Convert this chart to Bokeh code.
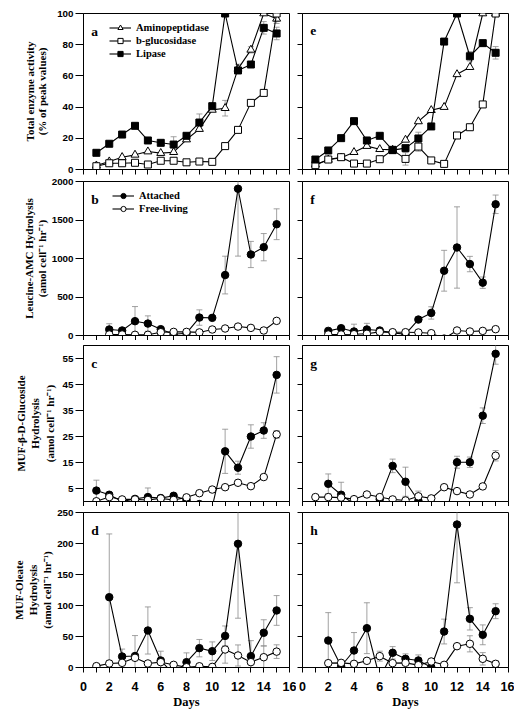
import numpy as np
from bokeh.plotting import figure
from bokeh.layouts import column, row
from bokeh.models import Range1d, FixedTicker, Legend, LegendItem, Label
from bokeh.embed import file_html
from bokeh.resources import INLINE

days = list(range(1, 16))
x_ticks = list(range(0, 17, 2))
x_minor = list(range(1, 16, 2))

# ---- Total enzyme activity (% of peak values): panel a (left), e (right)
amino_a = [2.5, 5.1, 7.9, 9.4, 11.5, 10.5, 11.1, 19.2, 25.9, 38.2, 39.3, 64.5, 76.7, 100, 96.6]
gluc_a = [2.1, 4.0, 4.0, 4.3, 3.2, 5.6, 5.6, 4.6, 5.1, 4.9, 15.0, 25.4, 42.7, 49.1, 100]
lip_a = [10.7, 16.5, 22.4, 28.0, 18.6, 17.1, 16.0, 21.6, 30.1, 40.6, 100, 63.5, 67.3, 90.8, 87.2]
sd_amino_a = [None] * 10 + [5, 3, 2, None, 3]
sd_gluc_a = [None] * 14 + [5]
sd_lip_a = [None, None, None, None, None, None, 5, None, 5.5, None, None, None, None, 4, 4]

amino_e = [3.2, 6.2, 7.5, 11.1, 15.0, 13.0, 12.6, 19.0, 30.8, 38.0, 40.0, 61.0, 65.6, 100, 100]
gluc_e = [2.8, 6.4, 7.9, 3.8, 3.8, 6.6, 12.6, 6.8, 14.7, 5.8, 3.6, 21.8, 27.1, 41.7, 100]
lip_e = [6.4, 12.2, 20.1, 31.0, 18.6, 21.6, 12.4, 13.7, 19.9, 27.6, 82.0, 100, 72.6, 81.0, 74.8]
sd_amino_e = [None] * 15
sd_gluc_e = [None] * 7 + [4, 3] + [None] * 6
sd_lip_e = [None] * 8 + [4] + [None] * 3 + [3, None, 4]

# ---- Leucine-AMC hydrolysis: panel b (left), f (right)
att_b = [None, 78, 65, 186, 155, 82, 17, 30, 233, 229, 785, 1906, 1052, 1147, 1445]
free_b = [None, 13, 13, 9, 9, 43, 47, 47, 40, 78, 91, 116, 99, 65, 190]
sd_att_b = [None, 75, None, 190, 100, None, None, None, 100, None, 245, 875, 170, 177, 200]
sd_free_b = [None] * 15

att_f = [None, 60, 95, 52, 78, 65, 34, 17, 207, 293, 841, 1143, 928, 686, 1704]
free_f = [None, 13, 13, 17, 22, 47, 43, 43, 39, 30, -40, 65, 52, 60, 82]
sd_att_f = [None, 35, 30, 95, 80, None, None, None, 30, 80, 265, 528, 100, 74, 120]
sd_free_f = [None] * 15

# ---- MUF-beta-D-glucoside hydrolysis: panel c (left), g (right)
att_c = [4.2, 2.6, 0.0, 1.0, 1.7, 1.3, 2.2, 0.6, -1.0, -2.0, 19.3, 13.0, 25.0, 27.3, 48.7]
free_c = [0.1, 1.7, 0.8, 0.8, 0.6, 1.2, 0.6, 1.6, 3.2, 4.6, 5.5, 7.2, 5.9, 9.4, 25.8]
sd_att_c = [4, None, None, None, 3.5, None, None, None, None, None, 8.5, 2.5, 4.5, 3, 7]
sd_free_c = [None] * 11 + [1, None, None, 1.5]

att_g = [None, 6.8, 2.6, -1.0, -2.0, 0.9, 13.7, 7.6, 0.3, -5.0, -10.0, 15.1, 15.1, 33.0, 56.8]
free_g = [1.7, 1.7, 1.5, 0.9, 2.7, 1.7, 0.8, 0.4, 2.0, 1.2, 5.5, 4.0, 2.7, 5.8, 17.6]
sd_att_g = [None, 3.8, 4.8, None, None, None, 2.6, 5.6, None, None, None, 2.3, 2, 3, 4]
sd_free_g = [None] * 8 + [2] + [None] * 5 + [2]

# ---- MUF-oleate hydrolysis: panel d (left), h (right)
att_d = [None, 113.4, 17.7, 18.5, 59.7, 11.3, -11.0, 8.6, 31.2, 26.3, 51.0, 199.5, 18.3, 56.0, 92.0]
free_d = [2.2, 6.5, 7.5, 15.6, 6.5, 8.6, 4.3, 0.5, 2.0, 1.0, 29.0, 19.4, 8.6, 16.6, 25.6]
sd_att_d = [None, 102, 12, 33, 38, 15, None, 15, 14, 15, 16, 120, 25, 21, 24]
sd_free_d = [None] * 10 + [22, 17, None, 18, 11]

att_h = [None, 43.5, 2.0, 27.4, 63.4, -17.0, 23.7, 14.0, 11.3, 0.5, 58.0, 230.6, 78.5, 52.7, 90.8]
free_h = [None, 7.0, 7.5, 5.9, 10.8, 18.3, 7.0, 7.5, 3.8, 9.7, 4.3, 34.4, 38.2, 14.0, 5.9]
sd_att_h = [None, 45, None, 29, 41, None, 10, 8, 9, None, 20, 94, 18, 16, 12]
sd_free_h = [None] * 5 + [8] + [None] * 6 + [13, 10, 5]

y_ranges = [(0, 100), (0, 2000), (0, 60), (0, 250)]
y_ticks = [[0, 20, 40, 60, 80, 100], [0, 500, 1000, 1500, 2000],
           [5, 15, 25, 35, 45, 55], [0, 50, 100, 150, 200, 250]]
y_labels = ["Total enzyme activity\n(% of peak values)",
            "Leucine-AMC Hydrolysis\n(amol cell\u207b\u00b9 hr\u207b\u00b9)",
            "MUF-\u03b2-D-Glucoside\nHydrolysis\n(amol cell\u207b\u00b9 hr\u207b\u00b9)",
            "MUF-Oleate\nHydrolysis\n(amol cell\u207b\u00b9 hr\u207b\u00b9)"]
label_standoffs = [6, 1, 4, 1]
label_line_heights = [1.05, 1.05, 1.18, 1.18]
letters = [["a", "b", "c", "d"], ["e", "f", "g", "h"]]

SERIF = "Liberation Serif"
SANS = "Liberation Sans"
GRAY = "#8a8a8a"
FW = 206
TOPS = [13, 6, 5, 6]
FHS = [156, 154, 156, 155]
BOTS = [6, 5, 5, 48]


def make_panel(col, r):
    left = col == 0
    bottom = r == 3
    mbl = 83 if left else 6
    mbr = 7 if left else 6
    p = figure(width=mbl + FW + mbr, height=TOPS[r] + FHS[r] + BOTS[r],
               x_range=Range1d(0, 16), y_range=Range1d(*y_ranges[r]),
               output_backend="svg", toolbar_location=None, tools="",
               min_border_left=mbl, min_border_right=mbr,
               min_border_top=TOPS[r], min_border_bottom=BOTS[r])
    p.xgrid.visible = False
    p.ygrid.visible = False
    p.outline_line_color = "black"
    p.outline_line_alpha = 1
    p.outline_line_width = 1
    p.background_fill_color = "white"
    p.border_fill_color = "white"

    xa = p.xaxis[0]
    xa.ticker = FixedTicker(ticks=x_ticks, minor_ticks=x_minor)
    xa.axis_line_color = "black"
    xa.major_tick_line_color = "black"
    xa.minor_tick_line_color = "black"
    xa.major_tick_out = 5
    xa.major_tick_in = 0
    xa.minor_tick_out = 5
    xa.minor_tick_in = 0
    if bottom:
        xa.major_label_text_font = SANS
        xa.major_label_text_font_style = "bold"
        xa.major_label_text_font_size = "12.5px"
        xa.major_label_text_color = "black"
        xa.major_label_standoff = 9
        xa.axis_label = "Days"
        xa.axis_label_text_font = SERIF
        xa.axis_label_text_font_style = "bold"
        xa.axis_label_text_font_size = "12.5px"
        xa.axis_label_text_color = "black"
        xa.axis_label_standoff = 1
    else:
        xa.major_label_text_color = None
        xa.major_label_text_font_size = "1px"
        xa.major_label_standoff = 0

    ya = p.yaxis[0]
    ya.ticker = FixedTicker(ticks=y_ticks[r], minor_ticks=[])
    ya.axis_line_color = "black"
    ya.major_tick_line_color = "black"
    ya.major_tick_in = 0
    ya.minor_tick_out = 0
    ya.minor_tick_in = 0
    if left:
        ya.major_tick_out = 8
        ya.major_label_text_font = SANS
        ya.major_label_text_font_style = "bold"
        ya.major_label_text_font_size = "9.8px"
        ya.major_label_text_color = "black"
        ya.major_label_standoff = 2
        ya.axis_label = y_labels[r]
        ya.axis_label_text_font = SERIF
        ya.axis_label_text_font_style = "bold"
        ya.axis_label_text_font_size = "11px"
        ya.axis_label_text_color = "black"
        ya.axis_label_text_line_height = label_line_heights[r]
        ya.axis_label_standoff = label_standoffs[r]
    else:
        ya.major_tick_out = 5
        ya.major_label_text_color = None
        ya.major_label_text_font_size = "1px"
        ya.major_label_standoff = 0

    y0, y1 = y_ranges[r]
    span = y1 - y0
    p.add_layout(Label(x=0.6, y=y1 - span * 17.5 / FHS[r], text=letters[col][r],
                       text_font=SERIF, text_font_style="bold", text_font_size="13.5px",
                       text_color="black", text_baseline="alphabetic"))
    return p


def errbars(p, vals, sds):
    xs, lo, hi = [], [], []
    for d, v, s in zip(days, vals, sds):
        if v is None or s is None:
            continue
        xs.append(d)
        lo.append(v - s)
        hi.append(v + s)
    if xs:
        p.segment(x0=xs, y0=lo, x1=xs, y1=hi, line_color=GRAY, line_width=0.8)
        p.scatter(x=xs + xs, y=lo + hi, marker="dash", size=6,
                  line_color=GRAY, line_width=0.8)


def series(p, vals, marker, fill, size):
    y = [np.nan if v is None else v for v in vals]
    r1 = p.line(days, y, line_color="black", line_width=1.1)
    r2 = p.scatter(days, y, marker=marker, size=size, fill_color=fill,
                   line_color="black", line_width=1)
    return [r1, r2]


def legend(p, items, loc):
    lg = Legend(items=items, location=loc, orientation="vertical",
                label_text_font=SERIF, label_text_font_style="bold",
                label_text_font_size="10.5px", label_text_color="black",
                glyph_width=22, glyph_height=13, label_height=13, label_standoff=5,
                spacing=0, padding=0, margin=0,
                border_line_alpha=0, background_fill_alpha=0)
    p.add_layout(lg)


def enzyme_panel(col, amino, gluc, lip, sda, sdg, sdl, with_legend):
    p = make_panel(col, 0)
    errbars(p, amino, sda)
    errbars(p, gluc, sdg)
    errbars(p, lip, sdl)
    ra = series(p, amino, "triangle", "white", 8)
    rg = series(p, gluc, "square", "white", 7)
    rl = series(p, lip, "square", "black", 7)
    if with_legend:
        legend(p, [LegendItem(label="Aminopeptidase", renderers=ra),
                   LegendItem(label="b-glucosidase", renderers=rg),
                   LegendItem(label="Lipase", renderers=rl)], (26, 109))
    return p


def hydro_panel(col, r, att, free, sda, sdf, with_legend):
    p = make_panel(col, r)
    errbars(p, att, sda)
    errbars(p, free, sdf)
    r_att = series(p, att, "circle", "black", 7.5)
    r_free = series(p, free, "circle", "white", 7.5)
    if with_legend:
        legend(p, [LegendItem(label="Attached", renderers=r_att),
                   LegendItem(label="Free-living", renderers=r_free)], (29, 120))
    return p


pa = enzyme_panel(0, amino_a, gluc_a, lip_a, sd_amino_a, sd_gluc_a, sd_lip_a, True)
pe = enzyme_panel(1, amino_e, gluc_e, lip_e, sd_amino_e, sd_gluc_e, sd_lip_e, False)
pb = hydro_panel(0, 1, att_b, free_b, sd_att_b, sd_free_b, True)
pf = hydro_panel(1, 1, att_f, free_f, sd_att_f, sd_free_f, False)
pc = hydro_panel(0, 2, att_c, free_c, sd_att_c, sd_free_c, False)
pg = hydro_panel(1, 2, att_g, free_g, sd_att_g, sd_free_g, False)
pd = hydro_panel(0, 3, att_d, free_d, sd_att_d, sd_free_d, False)
ph = hydro_panel(1, 3, att_h, free_h, sd_att_h, sd_free_h, False)

layout = column(row(pa, pe, spacing=0), row(pb, pf, spacing=0),
                row(pc, pg, spacing=0), row(pd, ph, spacing=0), spacing=0)

open("out.html", "w").write(file_html(layout, INLINE))
